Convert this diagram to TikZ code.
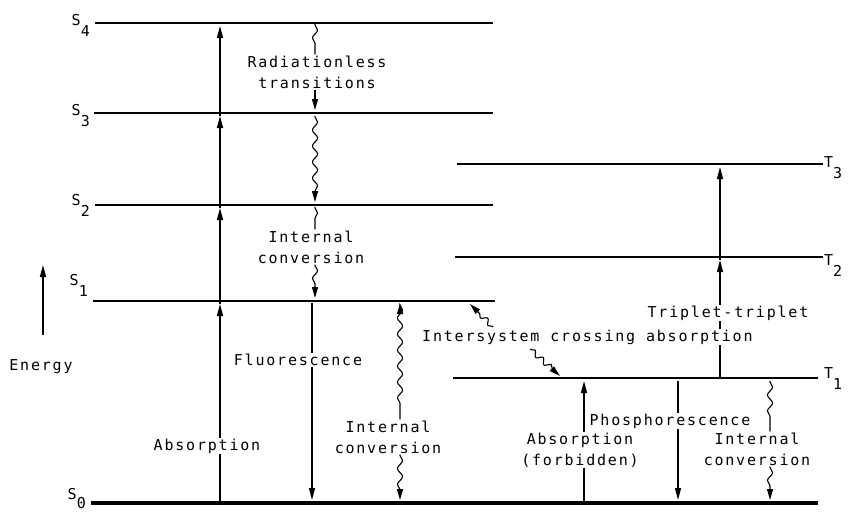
\documentclass[tikz,border=0pt]{standalone}
\usepackage{fontspec}
\newfontfamily\diagfont[LetterSpace=12]{DejaVu Sans Mono}
\usetikzlibrary{arrows.meta,decorations.pathmorphing}
\newcommand\lowsub[1]{\raisebox{-11pt}{#1}}
\tikzset{
  statebar/.style={line width=2.8pt},
  groundbar/.style={line width=3.3pt},
  radiative/.style={line width=1.4pt, -{Triangle[length=12pt,width=6pt]}},
  wavy/.style={line width=1.1pt, decorate,
    decoration={snake, amplitude=2.6pt, segment length=16pt, pre length=1pt, post length=10pt},
    -{Triangle[length=11pt,width=6pt]}},
  lbl/.style={font=\diagfont\fontsize{15}{21}\selectfont, fill=white, inner sep=1pt, align=center},
  statename/.style={font=\diagfont\fontsize{15}{21}\selectfont, inner sep=0pt}
}
\begin{document}
\begin{tikzpicture}[x=1pt, y=-1pt]
    \useasboundingbox (0,0) rectangle (848,514);

    % singlet and triplet levels
    \coordinate (S4w) at (95,23);   \coordinate (S4e) at (493,23);
    \coordinate (S3w) at (94,113);  \coordinate (S3e) at (493,113);
    \coordinate (S2w) at (95,205);  \coordinate (S2e) at (493,205);
    \coordinate (S1w) at (93,301);  \coordinate (S1e) at (495,301);
    \coordinate (S0w) at (91,503);  \coordinate (S0e) at (818,503);
    \coordinate (T3w) at (457,164); \coordinate (T3e) at (823,164);
    \coordinate (T2w) at (455,257); \coordinate (T2e) at (823,257);
    \coordinate (T1w) at (453,378); \coordinate (T1e) at (818,378);
    \foreach \lv in {S4,S3,S2,S1,T3,T2,T1}
        \draw[statebar] (\lv w) -- (\lv e);
    \draw[groundbar] (S0w) -- (S0e);

    \node[statename, anchor=base east] (s4l) at (90,25)  {S\lowsub{4}};
    \node[statename, anchor=base east] (s3l) at (90,115) {S\lowsub{3}};
    \node[statename, anchor=base east] (s2l) at (90,205) {S\lowsub{2}};
    \node[statename, anchor=base east] (s1l) at (88,285) {S\lowsub{1}};
    \node[statename, anchor=base east] (s0l) at (86,499) {S\raisebox{-9pt}{0}};
    \node[statename, anchor=base west] (t3l) at (824,167) {T\lowsub{3}};
    \node[statename, anchor=base west] (t2l) at (824,265) {T\lowsub{2}};
    \node[statename, anchor=base west] (t1l) at (824,378) {T\lowsub{1}};

    % energy axis
    \coordinate (en0) at (43,335);
    \coordinate (en1) at (43,265);
    \draw[radiative] (en0) -- (en1);
    \node[lbl] (energy) at (41,367) {Energy};

    % absorption ladder
    \coordinate (ab0) at (220,503);
    \coordinate (ab1) at (220,304);
    \coordinate (ab2) at (220,208);
    \coordinate (ab3) at (220,116);
    \coordinate (ab4) at (220,26);
    \draw[radiative] (ab0) -- (ab1);
    \draw[radiative] (ab1) -- (ab2);
    \draw[radiative] (ab2) -- (ab3);
    \draw[radiative] (ab3) -- (ab4);
    \node[lbl] (absn) at (207,446) {Absorption};

    % fluorescence
    \coordinate (fl1) at (312,303);
    \coordinate (fl0) at (312,500);
    \draw[radiative] (fl1) -- (fl0);
    \node[lbl] (fluo) at (298,360) {Fluorescence};

    % radiationless cascade
    \coordinate (rd4) at (315,24);
    \coordinate (rd3) at (315,110);
    \coordinate (rd3b) at (315,116);
    \coordinate (rd2) at (315,202);
    \coordinate (rd2b) at (315,207);
    \coordinate (rd1) at (315,298);
    \node[lbl, fill=none] (radl) at (317,72) {Radiationless\\transitions};
    \draw[wavy, -] (rd4) -- (rd4 |- radl.north);
    \draw[wavy] (rd4 |- radl.south) -- (rd3);
    \draw[wavy] (rd3b) -- (rd2);
    \node[lbl, fill=none] (icone) at (311,247) {Internal\\conversion};
    \draw[wavy, -] (rd2b) -- (rd2b |- icone.north);
    \draw[wavy] (rd2b |- icone.south) -- (rd1);

    % internal conversion S1 -> S0
    \coordinate (ic1) at (400,304);
    \coordinate (ic0) at (400,500);
    \node[lbl, fill=none] (ictwo) at (388,437) {Internal\\conversion};
    \draw[wavy, {Triangle[length=10pt,width=6pt]}-] (ic1) -- (ic1 |- ictwo.north);
    \draw[wavy] (ic1 |- ictwo.south) -- (ic0);

    % intersystem crossing
    \coordinate (isa) at (493,327);
    \coordinate (isb) at (470,304);
    \coordinate (isc) at (530,349);
    \coordinate (isd) at (560,376);
    \draw[wavy, decoration={segment length=11pt, post length=9pt}] (isa) -- (isb);
    \draw[wavy, decoration={segment length=11pt, post length=9pt}] (isc) -- (isd);

    % triplet-triplet absorption
    \coordinate (tt1) at (720,378);
    \coordinate (tt2) at (720,260);
    \coordinate (tt3) at (720,167);
    \draw[radiative] (tt1) -- (tt2);
    \draw[radiative] (tt2) -- (tt3);
    \node[lbl] (ttl) at (728,313) {Triplet-triplet};
    \node[lbl, anchor=west] (iscl) at (421,337) {Intersystem crossing absorption};

    % forbidden absorption
    \coordinate (fa0) at (584,503);
    \coordinate (fa1) at (584,381);
    \draw[radiative] (fa0) -- (fa1);
    \node[lbl] (forb) at (580,450) {Absorption\\(forbidden)};

    % phosphorescence
    \coordinate (ph1) at (678,381);
    \coordinate (ph0) at (678,500);
    \draw[radiative] (ph1) -- (ph0);
    \node[lbl] (phos) at (670,421) {Phosphorescence};

    % internal conversion T1 -> S0
    \coordinate (tc1) at (770,381);
    \coordinate (tc0) at (770,500);
    \node[lbl, fill=none] (icthree) at (757,449) {Internal\\conversion};
    \draw[wavy, -] (tc1) -- (tc1 |- icthree.north);
    \draw[wavy] (tc1 |- icthree.south) -- (tc0);
\end{tikzpicture}
\end{document}
